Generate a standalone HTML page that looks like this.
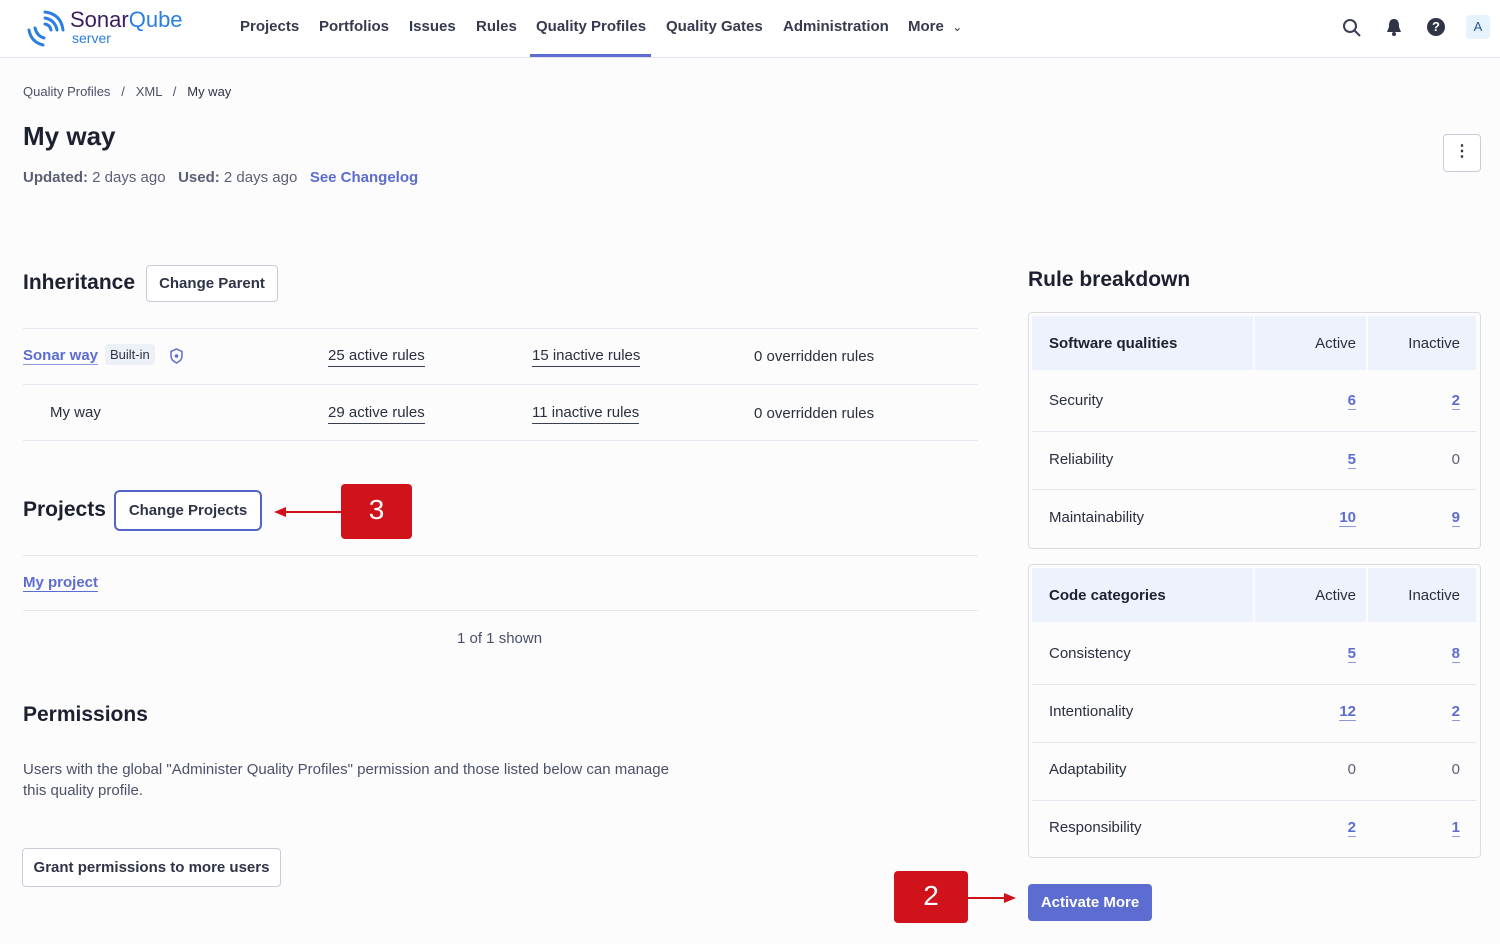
<!DOCTYPE html><html><head><style>
body{margin:0;width:1500px;height:944px;background:#fcfcfd;font-family:"Liberation Sans",sans-serif;color:#2a2f40;position:relative;overflow:hidden;font-size:15px}
.a{position:absolute;white-space:nowrap}
.nav{position:absolute;left:0;top:0;width:1500px;height:57px;background:#fff;border-bottom:1px solid #e3e4ef}
.ni{position:absolute;top:18px;font-size:15px;font-weight:bold;color:#363a4f}
.lnk{color:#5d6cd0;font-weight:bold}
.ul{border-bottom:1px solid #3a3f55;padding-bottom:2px}
.hr{position:absolute;height:1px;background:#e6e7ee}
.btn{position:absolute;border:1px solid #c9ccd8;border-radius:4px;background:#fff;font-weight:bold;color:#2f3447;font-size:15px;text-align:center;box-sizing:border-box}
.tb{position:absolute;left:1028px;width:453px;border:1px solid #dcdde4;border-radius:4px;background:#fcfcfd;box-sizing:border-box}
.c{position:absolute;box-sizing:border-box}
.h{background:#eef2fc}
.num{color:#5d6cd0;font-weight:bold;border-bottom:1px solid #8e98e0}
</style></head><body>
<div class="nav">
<svg class="a" style="left:25px;top:8px" width="42" height="40" viewBox="0 0 42 40"><g fill="none" stroke="#2a7fe0" stroke-width="3" stroke-linecap="round"><path d="M4 22 Q6 34 18 37"/><path d="M10 20 Q12 28 19 30"/><path d="M20 4 Q36 6 38 22"/><path d="M20 10 Q30 12 32 22"/><path d="M20 16 Q25 17 26 22"/></g></svg>
<div class="a" style="left:70px;top:7px;font-size:22px;color:#3b1d5e">Sonar<span style="color:#2a7fe0">Qube</span></div>
<div class="a" style="left:72px;top:30px;font-size:14px;color:#2a7fe0">server</div>
<div class="ni" style="left:240px">Projects</div>
<div class="ni" style="left:319px">Portfolios</div>
<div class="ni" style="left:409px">Issues</div>
<div class="ni" style="left:476px">Rules</div>
<div class="ni" style="left:536px">Quality Profiles</div>
<div class="a" style="left:530px;top:54px;width:121px;height:3px;background:#5d6cd0"></div>
<div class="ni" style="left:666px">Quality Gates</div>
<div class="ni" style="left:783px">Administration</div>
<div class="ni" style="left:908px">More &nbsp;<span style="font-weight:normal;font-size:12px">&#8964;</span></div>
<svg class="a" style="left:1342px;top:18px" width="20" height="20"><circle cx="8" cy="8" r="6" fill="none" stroke="#3a3f55" stroke-width="2"/><line x1="12" y1="12" x2="18" y2="18" stroke="#3a3f55" stroke-width="2"/></svg>
<svg class="a" style="left:1385px;top:17px" width="18" height="20"><path d="M9 2 C4 2 4 7 4 10 L2 15 H16 L14 10 C14 7 14 2 9 2Z" fill="#2f3447"/><circle cx="9" cy="17" r="2" fill="#2f3447"/></svg>
<div class="a" style="left:1427px;top:18px;width:18px;height:18px;border-radius:50%;background:#2f3447;color:#fff;font-size:13px;font-weight:bold;text-align:center;line-height:18px">?</div>
<div class="a" style="left:1466px;top:15px;width:24px;height:24px;border-radius:4px;background:#e6f3fd;color:#235a8f;font-size:13px;text-align:center;line-height:24px">A</div>
</div>
<div class="a" style="left:23px;top:84px;font-size:13px;color:#4b5069">Quality Profiles &nbsp;&nbsp;/&nbsp;&nbsp; XML &nbsp;&nbsp;/&nbsp;&nbsp; <span style="color:#2f3447">My way</span></div>
<div class="a" style="left:23px;top:121px;font-size:26px;font-weight:bold;color:#1d2030">My way</div>
<div class="a" style="left:23px;top:169px;color:#5a5f75"><b>Updated:</b> 2 days ago &nbsp; <b>Used:</b> 2 days ago &nbsp; <span class="lnk">See Changelog</span></div>
<div class="btn" style="left:1443px;top:134px;width:38px;height:38px;line-height:34px;font-size:16px">&#8942;</div>

<div class="a" style="left:23px;top:271px;font-size:21px;font-weight:bold;color:#1d2030">Inheritance</div>
<div class="btn" style="left:146px;top:265px;width:132px;height:37px;line-height:35px">Change Parent</div>
<div class="hr" style="left:23px;top:328px;width:955px"></div>
<div class="a" style="left:23px;top:347px"><span class="lnk" style="border-bottom:1px solid #8e98e0">Sonar way</span></div>
<div class="a" style="left:105px;top:344px;padding:3px 5px;background:#eef0f7;border-radius:4px;font-size:13px;color:#2f3447">Built-in</div>
<svg class="a" style="left:169px;top:348px" width="15" height="16"><path d="M7.5 1 L13 3.5 V8 C13 11 10.5 13.5 7.5 15 C4.5 13.5 2 11 2 8 V3.5Z" fill="none" stroke="#5d6cd0" stroke-width="1.5"/><circle cx="7.5" cy="8" r="1.8" fill="#5d6cd0"/></svg>
<div class="a" style="left:328px;top:347px"><span class="ul">25 active rules</span></div>
<div class="a" style="left:532px;top:347px"><span class="ul">15 inactive rules</span></div>
<div class="a" style="left:754px;top:348px">0 overridden rules</div>
<div class="hr" style="left:23px;top:384px;width:955px"></div>
<div class="a" style="left:50px;top:404px">My way</div>
<div class="a" style="left:328px;top:404px"><span class="ul">29 active rules</span></div>
<div class="a" style="left:532px;top:404px"><span class="ul">11 inactive rules</span></div>
<div class="a" style="left:754px;top:405px">0 overridden rules</div>
<div class="hr" style="left:23px;top:440px;width:955px"></div>

<div class="a" style="left:23px;top:498px;font-size:21px;font-weight:bold;color:#1d2030">Projects</div>
<div class="btn" style="left:114px;top:490px;width:148px;height:41px;line-height:37px;border:2px solid #5564c8;border-radius:6px">Change Projects</div>
<svg class="a" style="left:274px;top:503px" width="70" height="18"><line x1="10" y1="9" x2="68" y2="9" stroke="#d0121b" stroke-width="2"/><path d="M0 9 L12 4 L12 14Z" fill="#d0121b"/></svg>
<div class="a" style="left:341px;top:484px;width:71px;height:55px;background:#d0121b;border-radius:4px;color:#fff;font-size:28px;text-align:center;line-height:52px">3</div>
<div class="hr" style="left:23px;top:555px;width:955px"></div>
<div class="a" style="left:23px;top:574px"><span class="lnk" style="border-bottom:1px solid #5d6cd0">My project</span></div>
<div class="hr" style="left:23px;top:610px;width:955px"></div>
<div class="a" style="left:457px;top:630px;color:#4b5069">1 of 1 shown</div>

<div class="a" style="left:23px;top:703px;font-size:21px;font-weight:bold;color:#1d2030">Permissions</div>
<div class="a" style="left:23px;top:759px;color:#4b5069;line-height:21px">Users with the global "Administer Quality Profiles" permission and those listed below can manage<br>this quality profile.</div>
<div class="btn" style="left:22px;top:848px;width:259px;height:39px;line-height:37px">Grant permissions to more users</div>

<div class="a" style="left:1028px;top:268px;font-size:21px;font-weight:bold;color:#1d2030">Rule breakdown</div>
<div class="tb" style="top:312px;height:237px">
<div class="c h" style="left:3px;top:3px;width:221px;height:54px;padding:19px 17px;font-weight:bold;color:#1d2030">Software qualities</div>
<div class="c h" style="left:226px;top:3px;width:111px;height:54px;padding:19px 10px;text-align:right">Active</div>
<div class="c h" style="left:339px;top:3px;width:108px;height:54px;padding:19px 16px;text-align:right">Inactive</div>
<div class="c" style="left:20px;top:79px">Security</div><div class="c" style="right:124px;top:79px"><span class="num">6</span></div><div class="c" style="right:20px;top:79px"><span class="num">2</span></div>
<div class="hr" style="left:3px;top:118px;width:444px"></div>
<div class="c" style="left:20px;top:138px">Reliability</div><div class="c" style="right:124px;top:138px"><span class="num">5</span></div><div class="c" style="right:20px;top:138px;color:#5a5f75">0</div>
<div class="hr" style="left:3px;top:176px;width:444px"></div>
<div class="c" style="left:20px;top:196px">Maintainability</div><div class="c" style="right:124px;top:196px"><span class="num">10</span></div><div class="c" style="right:20px;top:196px"><span class="num">9</span></div>
</div>
<div class="tb" style="top:564px;height:294px">
<div class="c h" style="left:3px;top:3px;width:221px;height:54px;padding:19px 17px;font-weight:bold;color:#1d2030">Code categories</div>
<div class="c h" style="left:226px;top:3px;width:111px;height:54px;padding:19px 10px;text-align:right">Active</div>
<div class="c h" style="left:339px;top:3px;width:108px;height:54px;padding:19px 16px;text-align:right">Inactive</div>
<div class="c" style="left:20px;top:80px">Consistency</div><div class="c" style="right:124px;top:80px"><span class="num">5</span></div><div class="c" style="right:20px;top:80px"><span class="num">8</span></div>
<div class="hr" style="left:3px;top:119px;width:444px"></div>
<div class="c" style="left:20px;top:138px">Intentionality</div><div class="c" style="right:124px;top:138px"><span class="num">12</span></div><div class="c" style="right:20px;top:138px"><span class="num">2</span></div>
<div class="hr" style="left:3px;top:177px;width:444px"></div>
<div class="c" style="left:20px;top:196px">Adaptability</div><div class="c" style="right:124px;top:196px;color:#5a5f75">0</div><div class="c" style="right:20px;top:196px;color:#5a5f75">0</div>
<div class="hr" style="left:3px;top:235px;width:444px"></div>
<div class="c" style="left:20px;top:254px">Responsibility</div><div class="c" style="right:124px;top:254px"><span class="num">2</span></div><div class="c" style="right:20px;top:254px"><span class="num">1</span></div>
</div>
<div class="a" style="left:894px;top:871px;width:74px;height:52px;background:#d0121b;border-radius:4px;color:#fff;font-size:28px;text-align:center;line-height:50px">2</div>
<svg class="a" style="left:966px;top:889px" width="52" height="18"><line x1="2" y1="9" x2="42" y2="9" stroke="#d0121b" stroke-width="2"/><path d="M50 9 L38 4 L38 14Z" fill="#d0121b"/></svg>
<div class="a" style="left:1028px;top:884px;width:124px;height:37px;background:#5d6cd0;border-radius:4px;color:#fff;font-weight:bold;text-align:center;line-height:37px">Activate More</div>
</body></html>
